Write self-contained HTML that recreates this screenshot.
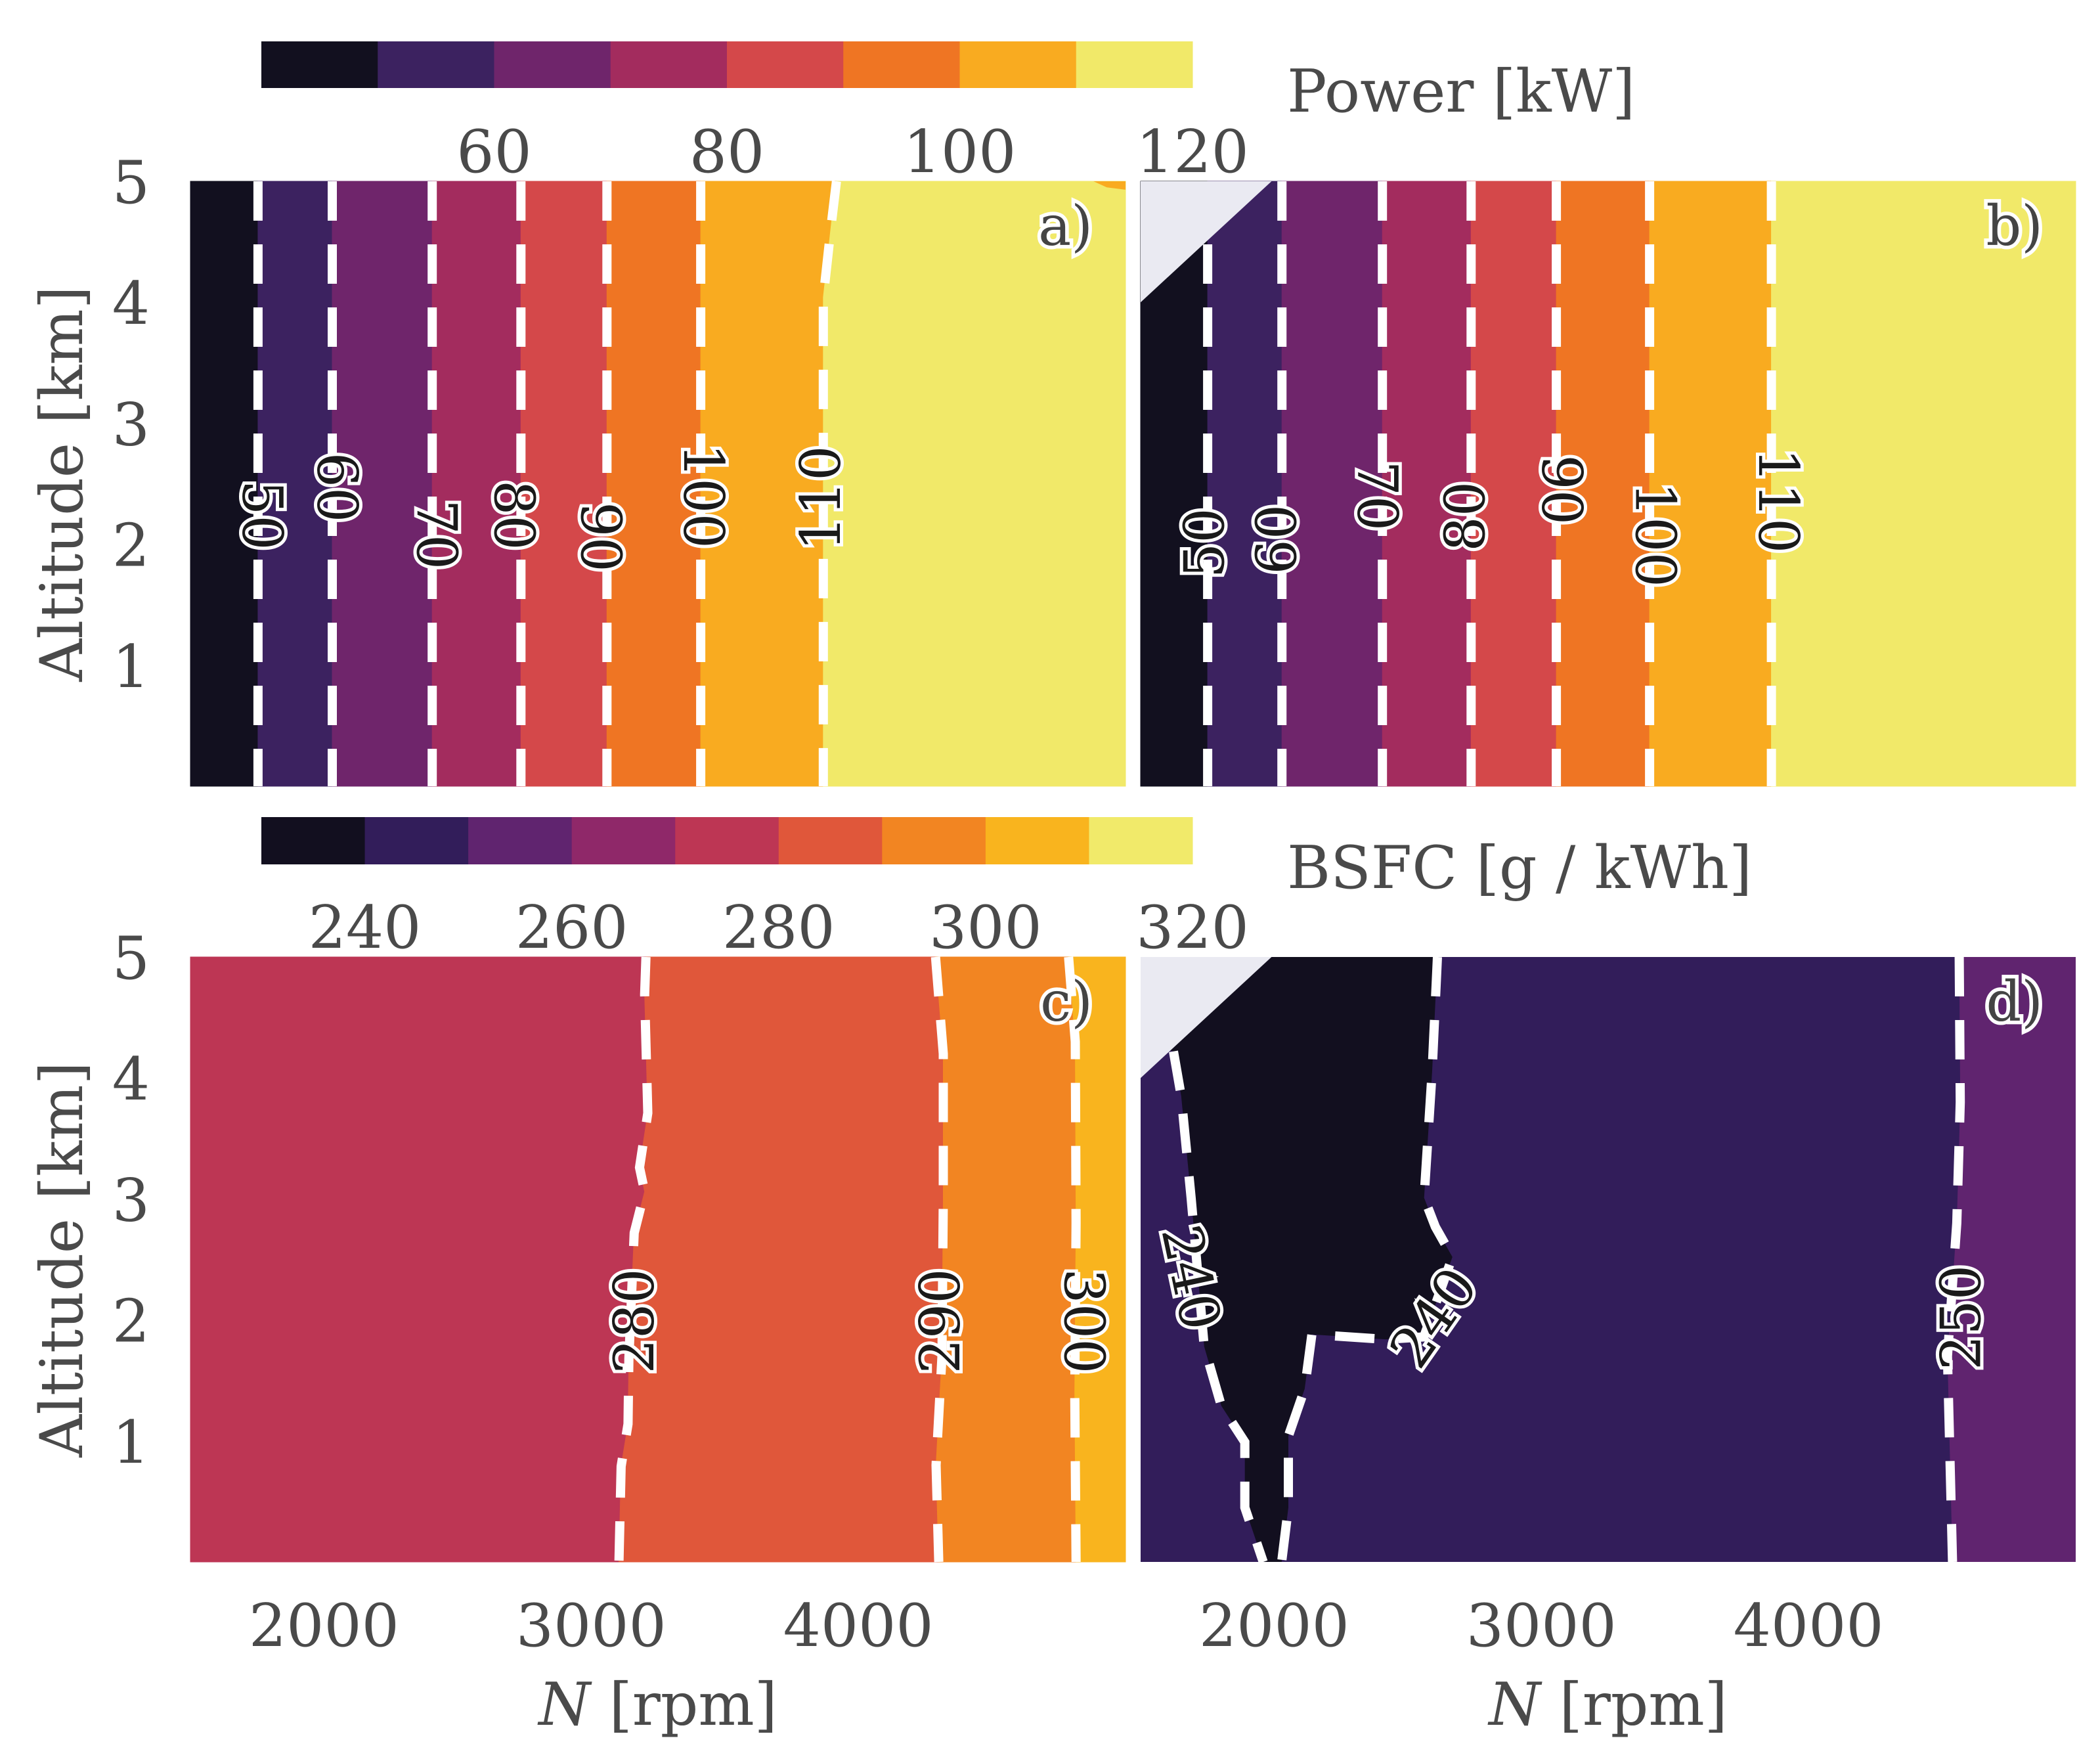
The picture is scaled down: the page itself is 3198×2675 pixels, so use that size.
<!DOCTYPE html>
<html><head><meta charset="utf-8">
<style>
html,body{margin:0;padding:0;background:#fff;}
svg{display:block;}
text{font-family:"DejaVu Serif","Liberation Serif",serif;}
.tick{font-size:90px;fill:#4a4a4a;}
.cl{font-size:84px;fill:#1a1a1a;stroke:#fff;stroke-width:10px;paint-order:stroke;}
.pl{font-size:84px;fill:#444;stroke:#fff;stroke-width:11px;paint-order:stroke;}
</style></head>
<body>
<svg id="fig" width="3198" height="2675" viewBox="0 0 3198 2675" xmlns="http://www.w3.org/2000/svg"></svg>
<script>
// ---- data ----
const powerLevels=[40,50,60,70,80,90,100,110,120];
const powerColors=['#12101f','#3c2260','#6f256b','#a32c5e','#d4484a','#ef7523','#f9ab20','#f1e969'];
const powerTicks=[60,80,100,120];
const bsfcLevels=[230,240,250,260,270,280,290,300,310,320];
const bsfcColors=['#120f1f','#321d5a','#60246f','#8f2869','#bd3654','#e0573a','#f28522','#f9b41e','#f1ea6a'];
const bsfcTicks=[240,260,280,300,320];
const xTicks=[2000,3000,4000];
const yTicks=[1,2,3,4,5];
// contour lines: [rpm, altitude]
const aLines=[
 {v:50,pts:[[1753,5],[1753,0]]},{v:60,pts:[[2031,5],[2031,0]]},{v:70,pts:[[2405,5],[2405,0]]},
 {v:80,pts:[[2737,5],[2737,0]]},{v:90,pts:[[3059,5],[3059,0]]},{v:100,pts:[[3410,5],[3410,0]]},
 {v:110,pts:[[3918,5],[3900,4.67],[3869,4.04],[3869,0]]}];
const bLines=[
 {v:50,pts:[[1751,5],[1751,0]]},{v:60,pts:[[2029,5],[2029,0]]},{v:70,pts:[[2405,5],[2405,0]]},
 {v:80,pts:[[2737,5],[2737,0]]},{v:90,pts:[[3056,5],[3056,0]]},{v:100,pts:[[3405,5],[3405,0]]},
 {v:110,pts:[[3861,5],[3861,0]]}];
const cLines=[
 {v:280,pts:[[3205,5],[3200,4.69],[3212,3.71],[3181,3.26],[3200,3.06],[3161,2.72],[3141,1.68],[3138,1.14],[3112,0.79],[3104,0]]},
 {v:290,pts:[[4289,5],[4318,4.2],[4318,3.0],[4313,1.7],[4291,0.8],[4301,0]]},
 {v:300,pts:[[4787,5],[4812,4.3],[4815,2.8],[4810,1.4],[4815,0]]}];
const dLeft240=[[1623,4.22],[1652,3.85],[1689,3.01],[1738,1.78],[1802,1.29],[1890,0.99],[1890,0.45],[1959,0]];
const dRight240=[[2611,5],[2591,4.05],[2561,3.01],[2603,2.77],[2667,2.52],[2560,1.86],[2416,1.84],[2141,1.88],[2114,1.43],[2053,1.04],[2053,0.45],[2028,0]];
const d250=[[4564,5],[4568,3.8],[4555,2.8],[4520,1.7],[4539,0]];
const gapTri=[[1500,5],[1990,5],[1500,4]];
// contour labels: [value, rpm, alt, rotation]
const aLabels=[[50,1768,2.24,90],[60,2048,2.47,90],[70,2420,2.08,90],[80,2710,2.24,90],[90,3035,2.06,90],[100,3420,2.40,90],[110,3860,2.38,-90]];
const bLabels=[[50,1740,2.01,-90],[60,2010,2.04,-90],[70,2385,2.40,90],[80,2715,2.23,-90],[90,3075,2.45,90],[100,3426,2.08,90],[110,3886,2.36,90]];
const cLabels=[[280,3162,1.99,-90],[290,4307,1.99,-90],[300,4844,1.99,90]];
const dLabels=[[240,1689,2.35,78],[240,2597,2.02,-55],[250,4571,2.02,-90]];

const NS='http://www.w3.org/2000/svg';
const svg=document.getElementById('fig');
function mk(tag,attrs,parent){const e=document.createElementNS(NS,tag);for(const k in attrs)e.setAttribute(k,attrs[k]);(parent||svg).appendChild(e);return e;}
const panels={a:{x0:290,y0:276,w:1424,h:921},b:{x0:1737,y0:276,w:1424,h:921},c:{x0:290,y0:1457,w:1424,h:921},d:{x0:1737,y0:1457,w:1424,h:921}};
function sx(p,r){return p.x0+(r-1500)/3500*p.w;}
function sy(p,a){return p.y0+(5-a)/5*p.h;}
function ptsStr(p,arr){return arr.map(q=>sx(p,q[0]).toFixed(1)+','+sy(p,q[1]).toFixed(1)).join(' ');}

function bandPanel(key,lines,colors,startIdx){
  const p=panels[key];
  const g=mk('g',{});
  
  
  const bounds=[[[1500,5],[1500,0]]].concat(lines.map(l=>l.pts)).concat([[[5000,5],[5000,0]]]);
  for(let i=0;i<bounds.length-1;i++){
    const poly=bounds[i].concat(bounds[i+1].slice().reverse());
    const e=mk('polygon',{points:ptsStr(p,poly),fill:colors[startIdx+i],stroke:colors[startIdx+i],'stroke-width':1},g);
    
    
  }
  lines.forEach(l=>{
    const e=mk('polyline',{points:ptsStr(p,l.pts),fill:'none',stroke:'#fff','stroke-width':14,'stroke-dasharray':'60 36'},g);
    
    
  });
  return g;
}
function addLabels(key,labels){
  const p=panels[key];
  labels.forEach(L=>{
    const x=sx(p,L[1]),y=sy(p,L[2]);
    const t=mk('text',{x:x,y:y,'text-anchor':'middle','dominant-baseline':'central','class':'cl',transform:'rotate('+L[3]+' '+x+' '+y+')'});
    t.textContent=L[0];
    
    
  });
}
function addTri(key){
  const p=panels[key];
  const e=mk('polygon',{points:ptsStr(p,gapTri),fill:'#eaeaf2'});
  
  
}
function panelLetter(key,txt){
  const p=panels[key];
  const t=mk('text',{x:p.x0+p.w-50,y:p.y0+97,'text-anchor':'end','class':'pl'});
  t.textContent=txt;
  
  
}

bandPanel('a',aLines,powerColors,0);
(function(){const p=panels.a;const e=mk('polygon',{points:ptsStr(p,[[4880,5],[5000,5],[5000,4.93],[4930,4.95]]),fill:'#f9ab20'});
})();
addLabels('a',aLabels);
bandPanel('b',bLines,powerColors,0);
addTri('b');addLabels('b',bLabels);
bandPanel('c',cLines,bsfcColors,4);
addLabels('c',cLabels);
(function(){
  const p=panels.d;
  const g=mk('g',{});
  
  
  let e=mk('rect',{x:p.x0,y:p.y0,width:p.w,height:p.h,fill:bsfcColors[1]},g);
  
  const right=d250.concat([[5000,0],[5000,5]]);
  e=mk('polygon',{points:ptsStr(p,right),fill:bsfcColors[2]},g);
  
  const blk=[[1500,5]].concat(dRight240).concat(dLeft240.slice().reverse()).concat([[1500,4.3]]);
  e=mk('polygon',{points:ptsStr(p,blk),fill:bsfcColors[0]},g);
  
  [['240-left',dLeft240],['240-right',dRight240],['250',d250]].forEach(c=>{
    const l=mk('polyline',{points:ptsStr(p,c[1]),fill:'none',stroke:'#fff','stroke-width':14,'stroke-dasharray':'60 36'},g);
    
    
  });
})();
addTri('d');addLabels('d',dLabels);
panelLetter('a','a)');panelLetter('b','b)');panelLetter('c','c)');panelLetter('d','d)');

['a','c'].forEach(k=>{const p=panels[k];
  yTicks.forEach(v=>{const t=mk('text',{x:228,y:sy(p,v)+33,'text-anchor':'end','class':'tick'});t.textContent=v;
    });
  const cy=p.y0+p.h/2;
  const t=mk('text',{x:125,y:cy,'text-anchor':'middle','class':'tick',transform:'rotate(-90 125 '+cy+')'});t.textContent='Altitude [km]';
  
});
['c','d'].forEach(k=>{const p=panels[k];
  xTicks.forEach(v=>{const t=mk('text',{x:sx(p,v),y:2506,'text-anchor':'middle','class':'tick'});t.textContent=v;
    });
  const t=mk('text',{x:p.x0+p.w/2,y:2626,'text-anchor':'middle','class':'tick'});
  t.innerHTML='<tspan font-style="italic">N</tspan> [rpm]';
  
});
function colorbar(levels,colors,ticks,y0,h,labY,title,titleY,name){
  const x0=398,x1=1816,lo=levels[0],hi=levels[levels.length-1];
  const cx=v=>x0+(v-lo)/(hi-lo)*(x1-x0);
  for(let i=0;i<colors.length;i++){
    const e=mk('rect',{x:cx(levels[i]),y:y0,width:cx(levels[i+1])-cx(levels[i])+0.5,height:h,fill:colors[i]});
    
  }
  ticks.forEach(v=>{const t=mk('text',{x:cx(v),y:labY,'text-anchor':'middle','class':'tick'});t.textContent=v;
    });
  const t=mk('text',{x:1960,y:titleY,'class':'tick'});t.textContent=title;
  
}
colorbar(powerLevels,powerColors,powerTicks,63,71,262,'Power [kW]',170,'power-colorbar');
colorbar(bsfcLevels,bsfcColors,bsfcTicks,1244,72,1443,'BSFC [g / kWh]',1352,'bsfc-colorbar');
</script>
</body></html>
